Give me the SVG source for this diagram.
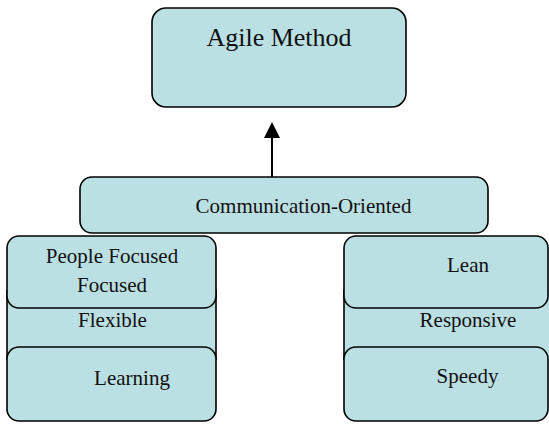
<svg xmlns="http://www.w3.org/2000/svg" width="549" height="424" viewBox="0 0 549 424">
<style>
.box{fill:#BBE0E3;stroke:#000;stroke-width:1.6}
.fill{fill:#BBE0E3;stroke:none}
.edge{stroke:#000;stroke-width:1.6}
text{font-family:'Liberation Serif','DejaVu Serif','Times New Roman',serif;font-size:21px;fill:#111;text-anchor:middle}
.big{font-size:26px}
</style>
<rect width="549" height="424" fill="#fff"/>
<g id="connectors">
<line x1="272" y1="178" x2="272" y2="136" stroke="#000" stroke-width="2"/>
<polygon points="272,122 264,138 280,138" fill="#000"/>
</g>
<g id="agile-method">
<rect class="box" x="152" y="8" width="254" height="99" rx="14"/>
<text class="big" x="279" y="46" font-family="Liberation Serif, serif">Agile Method</text>
</g>
<g id="communication-oriented">
<rect class="box" x="80" y="177" width="408" height="56" rx="12"/>
<text x="303.5" y="213" font-family="Liberation Serif, serif">Communication-Oriented</text>
</g>
<g id="left-stack">
<rect class="fill" x="7" y="290" width="209" height="70"/>
<line class="edge" x1="7" y1="290" x2="7" y2="360"/>
<line class="edge" x1="216" y1="290" x2="216" y2="360"/>
<text x="112.5" y="327" font-family="Liberation Serif, serif">Flexible</text>
</g>
<g id="people-focused">
<rect class="box" x="7" y="236" width="209" height="72" rx="12"/>
<text x="112" y="263" font-family="Liberation Serif, serif">People Focused</text>
<text x="112" y="292" font-family="Liberation Serif, serif">Focused</text>
</g>
<g id="learning">
<rect class="box" x="7" y="347" width="209" height="74" rx="12"/>
<text x="132" y="385" font-family="Liberation Serif, serif">Learning</text>
</g>
<g id="right-stack">
<rect class="fill" x="344" y="290" width="205" height="70"/>
<line class="edge" x1="344" y1="290" x2="344" y2="360"/>
<text x="468" y="327" font-family="Liberation Serif, serif">Responsive</text>
</g>
<g id="lean">
<rect class="box" x="344" y="236" width="204" height="72" rx="12"/>
<text x="468" y="272" font-family="Liberation Serif, serif">Lean</text>
</g>
<g id="speedy">
<rect class="box" x="344" y="347" width="204" height="74" rx="12"/>
<text x="467.5" y="383" font-family="Liberation Serif, serif">Speedy</text>
</g>
</svg>
